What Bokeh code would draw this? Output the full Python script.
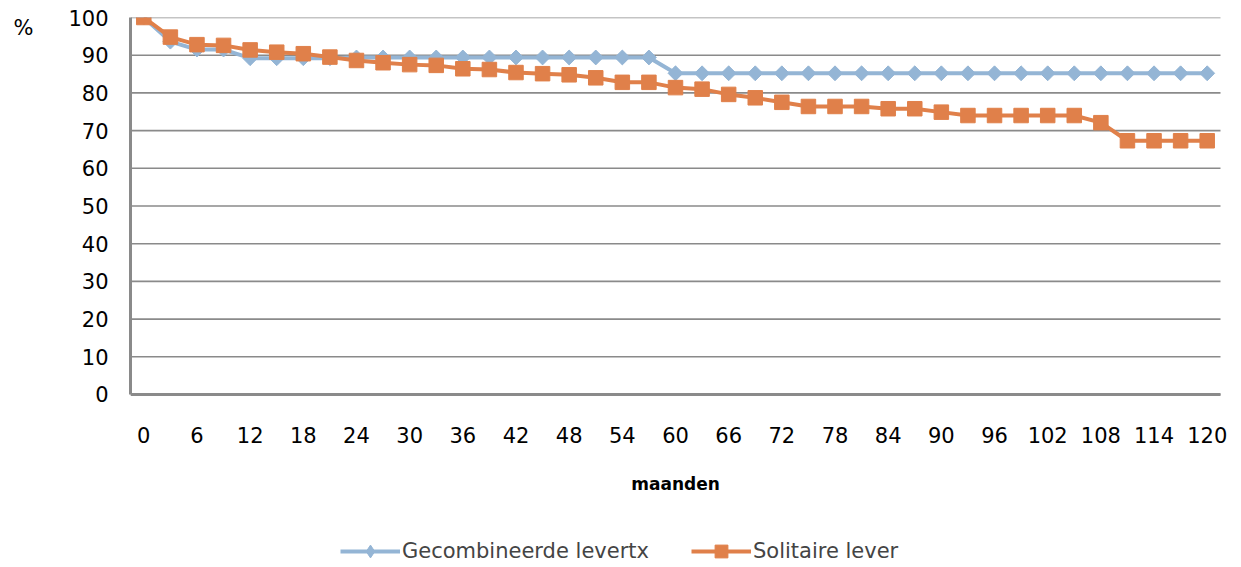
from bokeh.plotting import figure
from bokeh.models import FixedTicker, Legend, LegendItem, LinearAxis, Range1d
from bokeh.embed import file_html
from bokeh.resources import INLINE

# Survival (%) by months after transplant
months = [0, 3, 6, 9, 12, 15, 18, 21, 24, 27, 30, 33, 36, 39, 42, 45, 48, 51, 54, 57,
          60, 63, 66, 69, 72, 75, 78, 81, 84, 87, 90, 93, 96, 99, 102, 105, 108, 111,
          114, 117, 120]
gecombineerd = [100, 93.6, 91.5, 91.5, 89.2, 89.2, 89.2, 89.2, 89.4, 89.4, 89.4, 89.4,
                89.4, 89.4, 89.4, 89.4, 89.4, 89.4, 89.4, 89.4,
                85.2, 85.2, 85.2, 85.2, 85.2, 85.2, 85.2, 85.2, 85.2, 85.2, 85.2, 85.2,
                85.2, 85.2, 85.2, 85.2, 85.2, 85.2, 85.2, 85.2, 85.2]
solitair = [100, 94.8, 92.8, 92.6, 91.4, 90.8, 90.4, 89.5, 88.6, 88.0, 87.5, 87.3, 86.4,
            86.2, 85.4, 85.1, 84.8, 84.0, 82.8, 82.8, 81.4, 81.0, 79.6, 78.7, 77.5, 76.4,
            76.4, 76.4, 75.8, 75.8, 74.9, 74.0, 74.0, 74.0, 74.0, 74.0, 72.1, 67.3, 67.3,
            67.3, 67.3]
x_ticks = [0, 6, 12, 18, 24, 30, 36, 42, 48, 54, 60, 66, 72, 78, 84, 90, 96, 102, 108, 114, 120]
y_ticks = [0, 10, 20, 30, 40, 50, 60, 70, 80, 90, 100]

FONT = "DejaVu Sans"
GRID = "#8a8a8a"
BLUE = "#94b5d5"
ORANGE = "#e0804a"

# plotted band: half a step of 3 months beyond the first and last point
X_LO, X_HI = -1.5, 121.5

# The frame runs down to the bottom and right edges so that the axis labels
# and the legend below the zero line are all drawn inside it.
p = figure(width=1241, height=567, output_backend="svg", toolbar_location=None,
           x_range=Range1d(X_LO, 123.87), y_range=Range1d(-45.89, 100),
           min_border_left=130, min_border_right=0, min_border_top=17,
           min_border_bottom=0)
p.outline_line_color = None
p.background_fill_color = "white"
p.border_fill_color = "white"

p.xgrid.visible = False
p.ygrid.visible = False
# horizontal grid lines, limited to the plotted band
p.segment(x0=[X_LO] * len(y_ticks), y0=y_ticks, x1=[X_HI] * len(y_ticks), y1=y_ticks,
          line_color=GRID, line_width=1.6)

for ax in (p.xaxis[0], p.yaxis[0]):
    ax.axis_line_color = GRID
    ax.axis_line_width = 3
    ax.major_tick_line_color = None
    ax.minor_tick_line_color = None
    ax.major_label_text_font = FONT
    ax.major_label_text_font_size = "21px"
    ax.major_label_text_color = "black"

p.xaxis.fixed_location = 0
p.xaxis.bounds = (X_LO, X_HI)
p.xaxis.ticker = FixedTicker(ticks=x_ticks)
p.xaxis.major_label_standoff = 27
p.xaxis.axis_label = "maanden"
p.xaxis.axis_label_text_font = FONT
p.xaxis.axis_label_text_font_size = "17px"
p.xaxis.axis_label_text_font_style = "bold"
p.xaxis.axis_label_text_color = "black"
p.xaxis.axis_label_standoff = 27

p.yaxis.ticker = FixedTicker(ticks=y_ticks)
p.yaxis.bounds = (0, 100)
p.yaxis.major_label_standoff = 16

# unit marker "%" shown at the top-left, beside the value labels
unit_axis = LinearAxis(ticker=FixedTicker(ticks=[97.3]),
                       major_label_overrides={97.3: "%"},
                       axis_line_color=None, major_tick_line_color=None,
                       minor_tick_line_color=None, major_label_standoff=26,
                       major_label_text_font=FONT, major_label_text_font_size="21px",
                       major_label_text_color="black")
p.add_layout(unit_axis, "left")

l1 = p.line(months, gecombineerd, line_color=BLUE, line_width=4)
m1 = p.scatter(months, gecombineerd, marker="square", size=10.5, angle=0.785398,
               fill_color=BLUE, line_color=BLUE)
l2 = p.line(months, solitair, line_color=ORANGE, line_width=4)
m2 = p.scatter(months, solitair, marker="square", size=14.5,
               fill_color=ORANGE, line_color=ORANGE)

# diamond swatch for the legend; hidden in the plot area itself
key_diamond = p.scatter(months, gecombineerd, marker="diamond", size=16,
                        fill_color=BLUE, line_color=BLUE, visible=False)

legend = Legend(items=[LegendItem(label="Gecombineerde levertx", renderers=[l1, key_diamond]),
                       LegendItem(label="Solitaire lever", renderers=[l2, m2])],
                orientation="horizontal", location=(210, 0),
                label_text_font=FONT, label_text_font_size="21px",
                glyph_width=60, glyph_height=32, spacing=42, label_standoff=2,
                padding=0, margin=0, border_line_color=None,
                background_fill_alpha=0, inactive_fill_alpha=0)
p.add_layout(legend, "center")

open("out.html", "w").write(file_html(p, INLINE))
